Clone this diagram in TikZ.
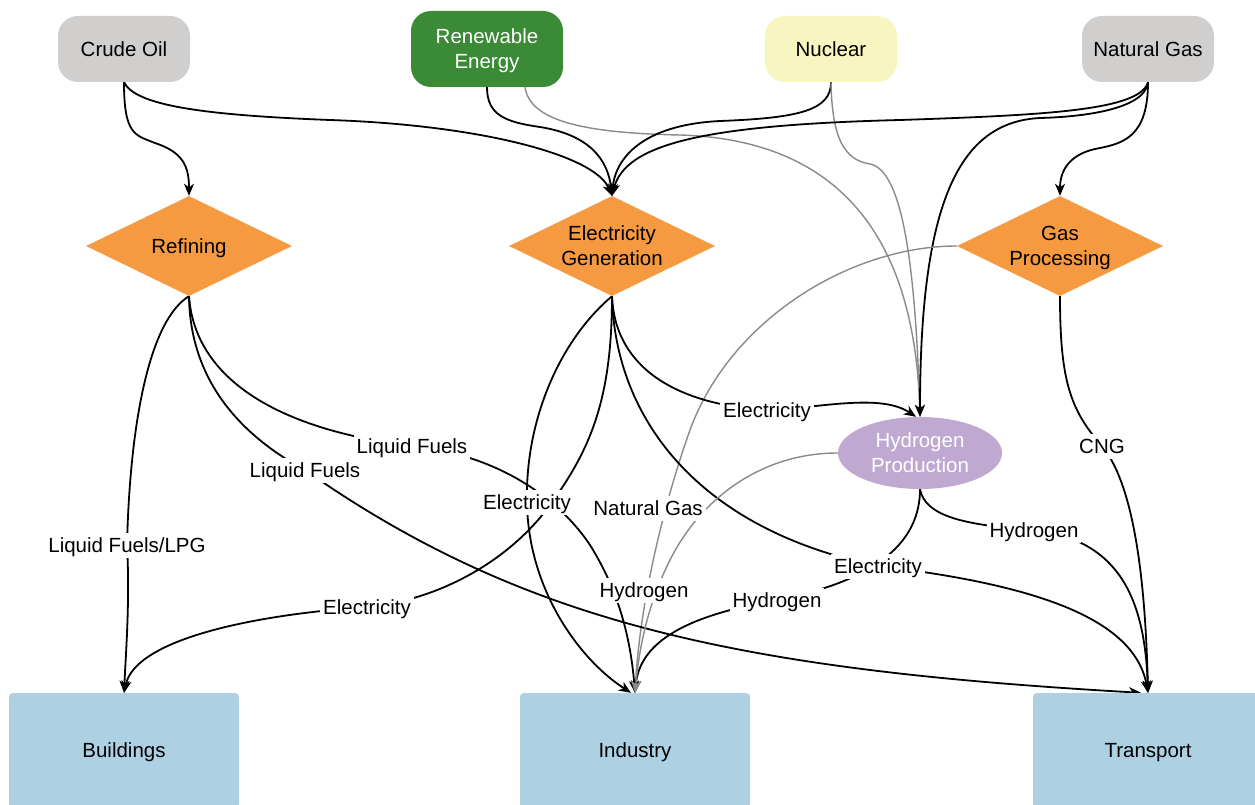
\documentclass[tikz,border=0pt]{standalone}
\usepackage{fontspec}
\setmainfont{Liberation Sans}
\usetikzlibrary{shapes.geometric,arrows.meta}
\pgfdeclarelayer{edges}
\pgfsetlayers{edges,main}
\definecolor{srcgray}{HTML}{D0CFCE}
\definecolor{renewgreen}{HTML}{3A8A36}
\definecolor{nucyellow}{HTML}{F7F6C0}
\definecolor{procorange}{HTML}{F59A40}
\definecolor{htwopurple}{HTML}{BFA9D0}
\definecolor{sinkblue}{HTML}{AED0E3}
\definecolor{edgegray}{HTML}{8A8A8A}
\newcommand\dgfont{\fontsize{20.5}{25}\selectfont}
\newcommand\ds{\rule[-4.3pt]{0pt}{23pt}}
\begin{document}
\begin{tikzpicture}[x=1pt,y=-1pt,
  every node/.style={font=\dgfont, align=center, inner sep=0pt},
  srcbox/.style={rectangle, rounded corners=20pt, minimum width=132pt, minimum height=66pt, fill=srcgray},
  procbox/.style={diamond, shape aspect=2, minimum width=206pt, minimum height=100pt, fill=procorange},
  sinkbox/.style={rectangle, rounded corners=4pt, minimum width=230pt, minimum height=115pt, fill=sinkblue},
  lab/.style={fill=white, inner xsep=3pt, inner ysep=1pt},
  flow/.style={line width=1.8pt, draw=black, -{Stealth[length=12pt,width=10pt,inset=3.5pt]}},
  gflow/.style={line width=1.4pt, draw=edgegray, -{Stealth[length=12pt,width=10pt,inset=3.5pt]}}
]
\clip (0,0) rectangle (1255,805);

% sources
\node[srcbox] (crude) at (124,49) {\ds Crude Oil};
\node[srcbox, fill=renewgreen, text=white, minimum width=152pt, minimum height=76pt] (renew) at (487,49) {\ds Renewable\\\ds Energy};
\node[srcbox, fill=nucyellow] (nuclear) at (831,49) {\ds Nuclear};
\node[srcbox] (natgas) at (1148,49) {\ds Natural Gas};

% processes
\node[procbox] (refining) at (189,246) {\ds Refining};
\node[procbox] (elecgen) at (612,246) {\ds Electricity\\\ds Generation};
\node[procbox] (gasproc) at (1060,246) {\ds Gas\\\ds Processing};
\node[ellipse, fill=htwopurple, text=white, minimum width=164pt, minimum height=72pt] (h2) at (920,453) {\ds Hydrogen\\\ds Production};

% sinks
\node[sinkbox] (buildings) at (124,750.5) {\ds Buildings};
\node[sinkbox] (industry) at (635,750.5) {\ds Industry};
\node[sinkbox] (transport) at (1148,750.5) {\ds Transport};

% labels
\node[lab] (lLPG) at (127,545) {\ds Liquid Fuels/LPG};
\node[lab] (lLFa) at (412,446) {\ds Liquid Fuels};
\node[lab] (lLFb) at (305,470) {\ds Liquid Fuels};
\node[lab] (lEa) at (767,410) {\ds Electricity};
\node[lab] (lEb) at (527,502) {\ds Electricity};
\node[lab] (lEc) at (367,607) {\ds Electricity};
\node[lab] (lEd) at (878,566) {\ds Electricity};
\node[lab] (lNG) at (648,508) {\ds Natural Gas};
\node[lab] (lHa) at (644,590) {\ds Hydrogen};
\node[lab] (lHb) at (777,600) {\ds Hydrogen};
\node[lab] (lHc) at (1034,530) {\ds Hydrogen};
\node[lab] (lCNG) at (1102,446) {\ds CNG};

\begin{pgfonlayer}{edges}
\fill[white] (0,0) rectangle (1255,805);
% crude oil
\draw[flow] (crude.south) .. controls (124,135) and (135,135) .. (155,143) .. controls (182,152) and (189,165) .. (refining.north);
\draw[flow] (crude.south) .. controls (135,105) and (200,115) .. (330,120) .. controls (480,125) and (595,155) .. (elecgen.north);
% renewable
\draw[flow] (renew.south) .. controls (487,115) and (505,122) .. (540,127) .. controls (590,135) and (608,160) .. (elecgen.north);
\draw[gflow] ([xshift=38pt]renew.south) .. controls (530,120) and (580,133) .. (680,135) .. controls (850,140) and (915,250) .. (h2.north);
% nuclear
\draw[flow] (nuclear.south) .. controls (831,110) and (800,118) .. (720,121) .. controls (640,125) and (615,160) .. (elecgen.north);
\draw[gflow] (nuclear.south) .. controls (832,140) and (845,160) .. (870,164) .. controls (900,170) and (915,250) .. (h2.north);
% natural gas
\draw[flow] (natgas.south) .. controls (1140,110) and (1050,115) .. (900,120) .. controls (700,125) and (625,145) .. (elecgen.north);
\draw[flow] (natgas.south) .. controls (1145,110) and (1080,117) .. (1040,118) .. controls (960,122) and (920,200) .. (h2.north);
\draw[flow] (natgas.south) .. controls (1148,135) and (1125,143) .. (1100,148) .. controls (1070,153) and (1060,170) .. (gasproc.north);
% gas processing
\draw[gflow] (gasproc.west) .. controls (850,246) and (730,320) .. (690,430) .. controls (665,500) and (640,600) .. (industry.north);
\draw[flow] (gasproc.south) .. controls (1060,380) and (1070,410) .. (lCNG.center) .. controls (1130,480) and (1145,560) .. (transport.north);
% refining
\draw[flow] (refining.south) .. controls (150,320) and (130,420) .. (lLPG.center) .. controls (130,600) and (126,650) .. (buildings.north);
\draw[flow] (refining.south) .. controls (195,380) and (280,430) .. (lLFa.center) .. controls (500,455) and (560,500) .. (590,545) .. controls (615,585) and (630,630) .. (industry.north);
\draw[flow] (refining.south) .. controls (190,380) and (240,435) .. (lLFb.center) .. controls (525,624) and (740,670) .. ([xshift=-7pt]transport.north);
% electricity generation
\draw[flow] (elecgen.south) .. controls (615,370) and (680,405) .. (lEa.center) .. controls (820,408) and (880,393) .. ([xshift=-4pt]h2.north);
\draw[flow] (elecgen.south) .. controls (612,400) and (590,450) .. (550,505) .. controls (510,560) and (440,600) .. (lEc.center) .. controls (250,615) and (135,640) .. (buildings.north);
\draw[flow] (elecgen.south) .. controls (560,340) and (525,420) .. (lEb.center) .. controls (528,590) and (580,660) .. ([xshift=-4pt]industry.north);
\draw[flow] (elecgen.south) .. controls (615,420) and (700,530) .. (lEd.center) .. controls (1040,585) and (1135,620) .. (transport.north);
% hydrogen production
\draw[flow] (h2.south) .. controls (925,515) and (960,525) .. (lHc.center) .. controls (1120,540) and (1145,600) .. (transport.north);
\draw[flow] (h2.south) .. controls (920,540) and (880,580) .. (lHb.center) .. controls (690,615) and (640,640) .. (industry.north);
\draw[gflow] (h2.west) .. controls (760,453) and (700,500) .. (670,560) .. controls (650,600) and (640,640) .. (industry.north);
\end{pgfonlayer}
\end{tikzpicture}
\end{document}
